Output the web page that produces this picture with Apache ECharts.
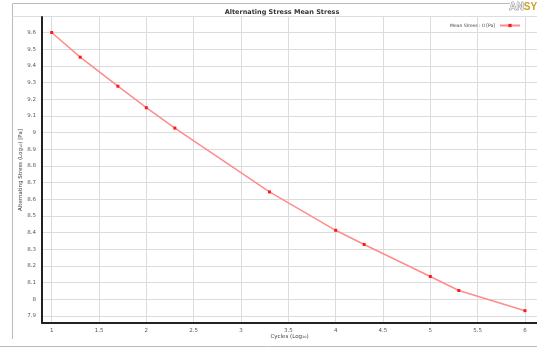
<!DOCTYPE html>
<html>
<head>
<meta charset="utf-8">
<script src="https://cdn.jsdelivr.net/npm/echarts@6/dist/echarts.min.js"></script>
<style>
  html, body { margin: 0; padding: 0; background: #fff; }
  #chart { width: 537px; height: 349px; }
</style>
</head>
<body>
<div id="chart"></div>
<script>
// log10 cycles vs log10 alternating stress
var cycles = [1, 1.301, 1.699, 2, 2.301, 3.301, 4, 4.301, 5, 5.301, 6];
var stress = [9.6, 9.452, 9.278, 9.149, 9.027, 8.644, 8.414, 8.329, 8.137, 8.053, 7.932];
var seriesName = 'Mean Stress : 0 [Pa]';

// tick labels
var xTicks = [1, 1.5, 2, 2.5, 3, 3.5, 4, 4.5, 5, 5.5, 6];
var yTicks = [7.9, 8, 8.1, 8.2, 8.3, 8.4, 8.5, 8.6, 8.7, 8.8, 8.9, 9, 9.1, 9.2, 9.3, 9.4, 9.5, 9.6];

var points = cycles.map(function (c, i) { return [c, stress[i]]; });

var gridLine = { color: '#dcdcdc', width: 1 };

var myChart = echarts.init(document.getElementById('chart'));
myChart.setOption({
  animation: false,
  textStyle: { fontFamily: 'DejaVu Sans' },
  title: {
    text: 'Alternating Stress Mean Stress',
    left: 277, top: 4, textAlign: 'center',
    textStyle: { fontSize: 6.5, fontWeight: 'bold', color: '#333' }
  },
  legend: {
    right: 11, top: 18,
    itemWidth: 20, itemHeight: 4, itemGap: 4,
    textStyle: { fontSize: 4.5, color: '#444' },
    align: 'right',
    data: [seriesName]
  },
  grid: { left: 42, right: 0, top: 17, bottom: 26 },
  xAxis: {
    type: 'value',
    min: 0.8975, max: 6.127,
    name: 'Cycles (Log₁₀)',
    nameLocation: 'middle', nameGap: 11, nameMoveOverlap: false,
    nameTextStyle: { fontSize: 5.5, color: '#444' },
    axisLine: { lineStyle: { color: '#222', width: 2 } },
    axisTick: { show: false, customValues: xTicks },
    axisLabel: { fontSize: 5.5, color: '#555', margin: 5, customValues: xTicks },
    splitLine: { show: true, lineStyle: gridLine }
  },
  yAxis: {
    type: 'value',
    min: 7.858, max: 9.693,
    name: 'Alternating Stress (Log₁₀) [Pa]',
    nameLocation: 'middle', nameGap: 18.5, nameMoveOverlap: false,
    nameTextStyle: { fontSize: 5.5, color: '#444' },
    axisLine: { show: true, lineStyle: { color: '#222', width: 2 } },
    axisTick: { show: false, customValues: yTicks },
    axisLabel: { fontSize: 5.5, color: '#555', margin: 6, customValues: yTicks },
    splitLine: { show: true, lineStyle: gridLine }
  },
  graphic: [
    { type: 'line', shape: { x1: 12.5, y1: 3.5, x2: 510, y2: 3.5 }, style: { stroke: '#bbb', lineWidth: 1 } },
    { type: 'line', shape: { x1: 12.5, y1: 3.5, x2: 12.5, y2: 339 }, style: { stroke: '#bbb', lineWidth: 1 } },
    { type: 'line', shape: { x1: 12.5, y1: 16.5, x2: 537, y2: 16.5 }, style: { stroke: '#ddd', lineWidth: 1 } },
    { type: 'line', shape: { x1: 0, y1: 346.5, x2: 537, y2: 346.5 }, style: { stroke: '#bbb', lineWidth: 1 } },
    {
      type: 'text', left: 509, top: 2,
      style: {
        text: '{a|AN}{b|SYS}',
        rich: {
          a: { fontSize: 10, fontWeight: 'bold', fill: '#e6e6e6', stroke: '#666', lineWidth: 0.6 },
          b: { fontSize: 10, fontWeight: 'bold', fill: '#c9a227' }
        }
      }
    }
  ],
  series: [{
    name: seriesName,
    type: 'line',
    data: points,
    symbol: 'rect',
    symbolSize: 3,
    itemStyle: { color: '#ff1a1a' },
    lineStyle: { color: '#ff8c8c', width: 1.5 }
  }]
});
</script>
</body>
</html>
